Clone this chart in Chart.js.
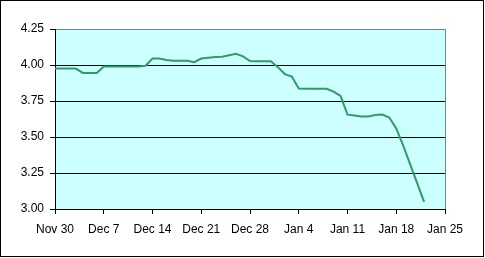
<!DOCTYPE html>
<html><head><meta charset="utf-8">
<script src="https://cdn.jsdelivr.net/npm/chart.js@4"></script>
<style>html,body{margin:0;padding:0;background:#fff;overflow:hidden}</style>
</head><body>
<canvas id="c" width="485" height="258"></canvas>
<script>
// Weekly tick labels (x axis, day offsets 0,7,...,56 from Nov 30)
const tickLabels = ['Nov 30','Dec 7','Dec 14','Dec 21','Dec 28','Jan 4','Jan 11','Jan 18','Jan 25'];
// Daily values starting Nov 30
const values = [
  3.975, 3.975, 3.975, 3.975, 3.945, 3.945, 3.945,
  3.990, 3.990, 3.990, 3.990, 3.990, 3.990, 3.995,
  4.045, 4.045, 4.035, 4.030, 4.030, 4.030, 4.020,
  4.045, 4.050, 4.055, 4.057, 4.067, 4.078, 4.060,
  4.027, 4.026, 4.026, 4.026, 3.985, 3.937, 3.920,
  3.837, 3.835, 3.835, 3.835, 3.835, 3.815, 3.785,
  3.655, 3.650, 3.642, 3.642, 3.652, 3.656, 3.635,
  3.560, 3.440, 3.310, 3.180, 3.050
];
const yMin = 3.0, yMax = 4.25, yStep = 0.25;

const points = values.map((v, i) => ({x: i, y: v}));

const frame = {
  id: 'frame',
  beforeDraw(chart) {
    const {ctx, chartArea: a} = chart;
    ctx.save();
    ctx.fillStyle = '#fff';
    ctx.fillRect(0, 0, chart.width, chart.height);
    ctx.fillStyle = '#CCFFFF';
    ctx.fillRect(a.left, a.top, a.right - a.left, a.bottom - a.top);
    ctx.restore();
  },
  beforeDatasetsDraw(chart) {
    const {ctx, chartArea: a} = chart;
    ctx.save();
    ctx.strokeStyle = '#808080';
    ctx.lineWidth = 1;
    ctx.beginPath();
    ctx.moveTo(Math.round(a.right) + 0.5, a.top);
    ctx.lineTo(Math.round(a.right) + 0.5, a.bottom);
    ctx.stroke();
    ctx.restore();
  },
  afterDraw(chart) {
    const ctx = chart.ctx;
    ctx.save();
    ctx.strokeStyle = '#000';
    ctx.lineWidth = 1;
    ctx.strokeRect(0.5, 0.5, 483, 256);
    ctx.restore();
  }
};

new Chart(document.getElementById('c'), {
  type: 'line',
  data: {
    datasets: [{
      data: points,
      borderColor: '#339966',
      borderWidth: 2,
      pointRadius: 0,
      tension: 0,
      fill: false
    }]
  },
  options: {
    responsive: false,
    animation: false,
    devicePixelRatio: 1,
    layout: {padding: {left: 0, top: 29, right: 40, bottom: 0}},
    plugins: {legend: {display: false}, tooltip: {enabled: false}},
    scales: {
      x: {
        type: 'linear',
        min: 0, max: (tickLabels.length - 1) * 7,
        ticks: {
          stepSize: 7,
          color: '#000',
          font: {family: '"Liberation Sans", Arial, sans-serif', size: 12},
          padding: 8,
          maxRotation: 0,
          autoSkip: false,
          callback: (v) => tickLabels[Math.round(v / 7)]
        },
        grid: {drawOnChartArea: false, drawTicks: true, tickLength: 5, tickColor: '#000'},
        border: {display: true, color: '#000'},
        afterFit: (s) => { s.height = 49; }
      },
      y: {
        min: yMin, max: yMax,
        ticks: {
          stepSize: yStep,
          color: '#000',
          font: {family: '"Liberation Sans", Arial, sans-serif', size: 12},
          padding: 6,
          callback: (v) => v.toFixed(2)
        },
        grid: {
          color: (c) => (Math.abs(c.tick.value - yMax) < 1e-6 ? '#808080' : '#000'),
          tickColor: '#000',
          tickLength: 5,
          drawTicks: true
        },
        border: {display: true, color: '#000'},
        afterFit: (s) => { s.width = 55; }
      }
    }
  },
  plugins: [frame]
});
</script>
</body></html>
